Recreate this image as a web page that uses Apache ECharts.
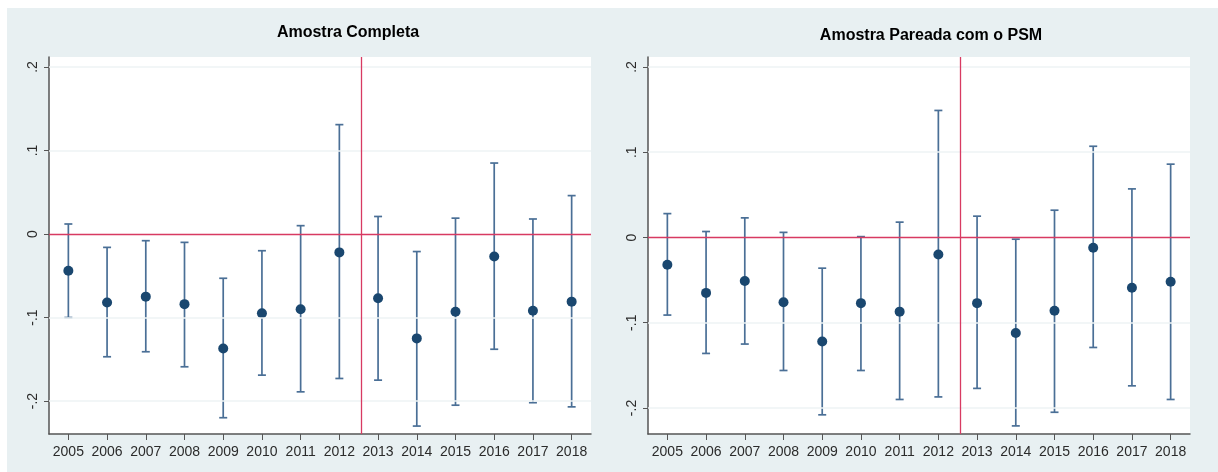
<!DOCTYPE html>
<html>
<head>
<meta charset="utf-8">
<script src="https://cdn.jsdelivr.net/npm/echarts@6/dist/echarts.min.js"></script>
<style>
html,body{margin:0;padding:0;background:#fff;}
#chart{width:1218px;height:472px;}
</style>
</head>
<body>
<div id="chart"></div>
<script>
var years = [2005,2006,2007,2008,2009,2010,2011,2012,2013,2014,2015,2016,2017,2018];

var leftTitle = 'Amostra Completa';
var leftEst = [-0.044,-0.082,-0.075,-0.084,-0.137,-0.095,-0.090,-0.022,-0.077,-0.125,-0.093,-0.027,-0.092,-0.081];
var leftLo  = [-0.100,-0.147,-0.141,-0.159,-0.220,-0.169,-0.189,-0.173,-0.175,-0.230,-0.205,-0.138,-0.202,-0.207];
var leftHi  = [0.012,-0.016,-0.008,-0.010,-0.053,-0.020,0.010,0.131,0.021,-0.021,0.019,0.085,0.018,0.046];

var rightTitle = 'Amostra Pareada com o PSM';
var rightEst = [-0.032,-0.065,-0.051,-0.076,-0.122,-0.077,-0.087,-0.020,-0.077,-0.112,-0.086,-0.012,-0.059,-0.052];
var rightLo  = [-0.091,-0.136,-0.125,-0.156,-0.208,-0.156,-0.190,-0.187,-0.177,-0.221,-0.205,-0.129,-0.174,-0.190];
var rightHi  = [0.028,0.007,0.023,0.006,-0.036,0.001,0.018,0.149,0.025,-0.002,0.032,0.107,0.057,0.086];

var yTickValues = [-0.2,-0.1,0,0.1,0.2];
var yTickLabels = ['-.2','-.1','0','.1','.2'];
var eventLine = 2012.56;

var navy = '#1A476F';
var barColor = '#4A6F96';
var red = '#D83A62';
var axisColor = '#555555';
var gridColor = '#EEF3F4';
var font = 'Liberation Sans, Arial, sans-serif';

function yFmt(v){
  for (var i=0;i<yTickValues.length;i++){ if (Math.abs(v-yTickValues[i])<1e-9) return yTickLabels[i]; }
  return '';
}

function errRender(params, api){
  var x = api.value(0), lo = api.value(1), hi = api.value(2);
  var a = api.coord([x, hi]), b = api.coord([x, lo]);
  var w = 4;
  var st = {stroke: barColor, lineWidth: 1.7};
  return {type:'group', children:[
    {type:'line', shape:{x1:a[0],y1:a[1],x2:b[0],y2:b[1]}, style:st},
    {type:'line', shape:{x1:a[0]-w,y1:a[1],x2:a[0]+w,y2:a[1]}, style:st},
    {type:'line', shape:{x1:b[0]-w,y1:b[1],x2:b[0]+w,y2:b[1]}, style:st}
  ]};
}

var grids = [
  {left:49, right:627, top:57, bottom:38, show:true, backgroundColor:'#ffffff', borderWidth:0},
  {left:648, right:28, top:57, bottom:38, show:true, backgroundColor:'#ffffff', borderWidth:0}
];

function xAxisFor(i){
  return {
    type:'value', gridIndex:i, min:2004.5, max:2018.5,
    axisLine:{show:true, onZero:false, lineStyle:{color:axisColor, width:1.5}},
    axisTick:{show:true, customValues:years, length:6, lineStyle:{color:axisColor, width:1}},
    axisLabel:{customValues:years, color:'#2b2b2b', fontSize:14, fontFamily:font, margin:11, formatter:function(v){return String(v);}},
    splitLine:{show:false}
  };
}
function yAxisFor(i, mn, mx){
  return {
    type:'value', gridIndex:i, min:mn, max:mx,
    axisLine:{show:true, onZero:false, lineStyle:{color:axisColor, width:1.5}},
    axisTick:{show:true, customValues:yTickValues, length:5, lineStyle:{color:axisColor, width:1}},
    axisLabel:{customValues:yTickValues, rotate:90, color:'#2b2b2b', fontSize:14, fontFamily:font, margin:9, formatter:yFmt},
    splitLine:{show:false}
  };
}

function zip3(a,b,c){ return years.map(function(y,i){ return [y,b[i],c[i]]; }); }
function zip2(a){ return years.map(function(y,i){ return [y,a[i]]; }); }

function panelSeries(i, est, lo, hi){
  var gridLines = yTickValues.filter(function(v){return v!==0;}).map(function(v){ return {yAxis:v}; });
  return [
    {type:'line', xAxisIndex:i, yAxisIndex:i, data:[], silent:true,
     markLine:{silent:true, symbol:'none', label:{show:false}, animation:false,
       lineStyle:{color:gridColor, width:1.5, type:'solid'}, data:gridLines}},
    {type:'custom', xAxisIndex:i, yAxisIndex:i, renderItem:errRender, data:zip3(years,lo,hi), z:2, silent:true, animation:false},
    {type:'scatter', xAxisIndex:i, yAxisIndex:i, data:zip2(est), symbol:'circle', symbolSize:10,
     itemStyle:{color:navy, opacity:1}, z:4, animation:false,
     markLine:{silent:true, symbol:'none', label:{show:false}, animation:false,
       lineStyle:{color:red, width:1.3, type:'solid', opacity:1}, data:[{yAxis:0},{xAxis:eventLine}]}}
  ];
}

var chart = echarts.init(document.getElementById('chart'), null, {renderer:'canvas'});
chart.setOption({
  animation:false,
  backgroundColor:'#ffffff',
  graphic:[
    {type:'rect', shape:{x:7, y:8, width:1211, height:464}, style:{fill:'#E8F0F2'}, z:-10, silent:true},
    {type:'text', x:348, y:33, style:{text:leftTitle, font:'bold 16px Liberation Sans, Arial, sans-serif', fill:'#000', textAlign:'center', textVerticalAlign:'middle'}},
    {type:'text', x:931, y:36, style:{text:rightTitle, font:'bold 16px Liberation Sans, Arial, sans-serif', fill:'#000', textAlign:'center', textVerticalAlign:'middle'}}
  ],
  grid:grids,
  xAxis:[xAxisFor(0), xAxisFor(1)],
  yAxis:[yAxisFor(0,-0.2395,0.212), yAxisFor(1,-0.2305,0.2117)],
  series: panelSeries(0,leftEst,leftLo,leftHi).concat(panelSeries(1,rightEst,rightLo,rightHi))
});
</script>
</body>
</html>
